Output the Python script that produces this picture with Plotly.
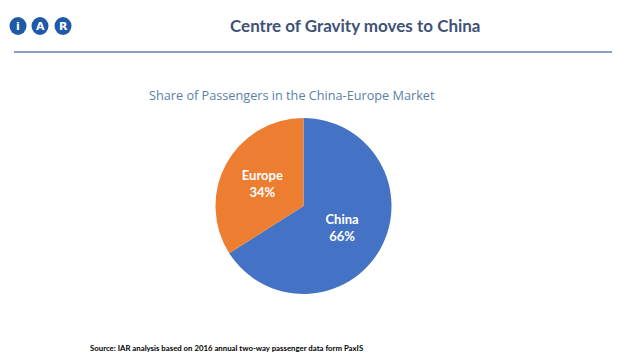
import plotly.graph_objects as go

labels = ["China", "Europe"]
shares = [66, 34]
colors = ["#4472C4", "#ED7D31"]

W, H = 624, 350
OFF = 8  # page body margin


def px(x): return (x - OFF) / W
def py(y): return 1 - (y - OFF) / H


fig = go.Figure(go.Pie(
    labels=labels, values=shares, sort=False, direction="clockwise",
    rotation=0, marker=dict(colors=colors, line=dict(width=0)),
    texttemplate="<b>%{label}</b><br><b>%{percent:.0%}</b>",
    textposition="inside", insidetextorientation="horizontal",
    textfont=dict(family="Lato", size=13, color="white"),
    domain=dict(x=[px(303.5 - 88), px(303.5 + 88)], y=[py(294), py(118)]),
    showlegend=False, hoverinfo="label+percent",
))

shapes = [dict(type="line", xref="paper", yref="paper", x0=px(14), x1=px(612),
               y0=py(52), y1=py(52), line=dict(color="#8E9FC6", width=2))]
annotations = []
for cx, letter in [(18, "i"), (40, "A"), (63, "R")]:
    shapes.append(dict(type="circle", xref="paper", yref="paper",
                       x0=px(cx - 8.5), x1=px(cx + 8.5), y0=py(26 + 9), y1=py(26 - 9),
                       fillcolor="#1F5AA8", line=dict(width=0), layer="below"))
    annotations.append(dict(x=px(cx), y=py(27), xref="paper", yref="paper",
                            yanchor="middle", xanchor="center",
                            text=f"<b>{letter}</b>", showarrow=False,
                            font=dict(family="DejaVu Sans", size=11, color="white")))

annotations += [
    dict(x=px(355), y=py(25), xref="paper", yref="paper", showarrow=False,
         yanchor="middle", xanchor="center",
         text="<b>Centre of Gravity moves to China</b>",
         font=dict(family="Lato", size=17, color="#3F5278")),
    dict(x=px(292), y=py(95), xref="paper", yref="paper", showarrow=False,
         yanchor="middle", xanchor="center",
         text="Share of Passengers in the China-Europe Market",
         font=dict(family="Open Sans", size=12.7, color="#5B80A8")),
    dict(x=px(88), y=py(348), xref="paper", yref="paper", showarrow=False,
         xanchor="left", yanchor="middle",
         text="<b>Source: IAR analysis based on 2016 annual two-way passenger data form PaxIS</b>",
         font=dict(family="Lato", size=7.8, color="black")),
]

fig.update_layout(width=W, height=H, margin=dict(l=0, r=0, t=0, b=0),
                  paper_bgcolor="white", plot_bgcolor="white",
                  shapes=shapes, annotations=annotations)
fig.write_html("out.html")
